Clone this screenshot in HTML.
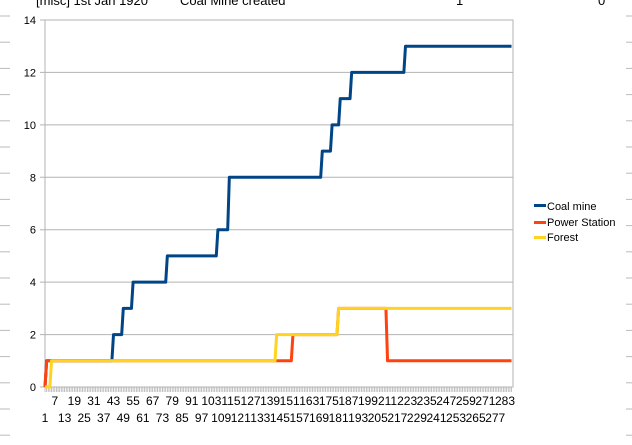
<!DOCTYPE html>
<html><head><meta charset="utf-8"><style>
body{margin:0;background:#fff;font-family:"Liberation Sans",sans-serif;}
svg text{font-family:"Liberation Sans",sans-serif;}
</style></head><body>
<svg width="632" height="440" xmlns="http://www.w3.org/2000/svg">
<g>
<text x="36" y="5" font-size="13" fill="#000">[misc] 1st Jan 1920</text>
<text x="180" y="5" font-size="13" fill="#000">Coal Mine created</text>
<text x="456" y="5" font-size="13" fill="#000">1</text>
<text x="598" y="5" font-size="13" fill="#000">0</text>
<g id="rowticks" stroke="#bbb"></g>
</g>
<g id="grid"></g>
<g id="axes"></g>
<g id="series"></g>
<g>
<rect x="534" y="204" width="12" height="3" fill="#004586"/>
<text x="547" y="210" font-size="11">Coal mine</text>
<rect x="534" y="221" width="12" height="3" fill="#ff420e"/>
<text x="547" y="226" font-size="11">Power Station</text>
<rect x="534" y="236" width="12" height="3" fill="#ffd320"/>
<text x="547" y="241" font-size="11">Forest</text>
</g>
</svg>
<script>
const categoryCount = 287;
const yTicks = [0,2,4,6,8,10,12,14];
// step change points: [category index, new value]
const coalSteps = [[1,0],[2,1],[43,2],[49,3],[55,4],[76,5],[107,6],[114,8],[171,9],[177,10],[182,11],[189,12],[222,13]];
const powerSteps = [[1,0],[2,1],[153,2],[181,3],[211,1]];
const forestSteps = [[1,0],[5,1],[143,2],[181,3]];
const NS='http://www.w3.org/2000/svg';
const L=45,R=513,T=20,B=387;
const x=i=>L+(i-1)*(505-45)/282;
const y=v=>B-(v/14)*(B-T);
function mk(tag,attrs,parent){const e=document.createElementNS(NS,tag);for(const k in attrs)e.setAttribute(k,attrs[k]);parent.appendChild(e);return e;}
const rt=document.getElementById('rowticks');
for(let yy=16;yy<440;yy+=26.2){mk('line',{x1:0,x2:10,y1:yy,y2:yy},rt);mk('line',{x1:626,x2:632,y1:yy,y2:yy},rt);}
const grid=document.getElementById('grid');
yTicks.forEach(v=>{
 const g=mk('line',{x1:L-5,x2:R,y1:y(v),y2:y(v),stroke:'#b3b3b3','stroke-width':1},grid);
 
 
 const t=mk('text',{x:L-9,y:y(v)+4,'font-size':11,'text-anchor':'end'},grid);
 t.textContent=v;
 
 
});
const ax=document.getElementById('axes');
const fr=mk('rect',{x:L,y:T,width:R-L,height:B-T,fill:'none',stroke:'#b3b3b3'},ax);


for(let i=1;i<=categoryCount;i++){mk('line',{x1:x(i),x2:x(i),y1:B,y2:B+5,stroke:'#b3b3b3','stroke-width':0.8},ax);}
for(let i=1;i<=categoryCount;i+=6){
 const t=mk('text',{x:x(i),y:((i-1)%12===0)?B+35:B+18,'font-size':12,'text-anchor':'middle'},ax);
 t.textContent=i;
 
 
}
function expand(steps){const v=[];let s=0;for(let i=1;i<=categoryCount;i++){while(s+1<steps.length&&steps[s+1][0]<=i)s++;v.push(steps[s][1]);}return v;}
const S=document.getElementById('series');
[['coal-mine',coalSteps,'#004586'],['power-station',powerSteps,'#ff420e'],['forest',forestSteps,'#ffd320']].forEach(([n,st,c])=>{
 const vals=expand(st);
 const p=mk('polyline',{points:vals.map((v,k)=>x(k+1)+','+y(v)).join(' '),fill:'none',stroke:c,'stroke-width':3,'stroke-linejoin':'round'},S);
 
 
});
</script>
</body></html>
